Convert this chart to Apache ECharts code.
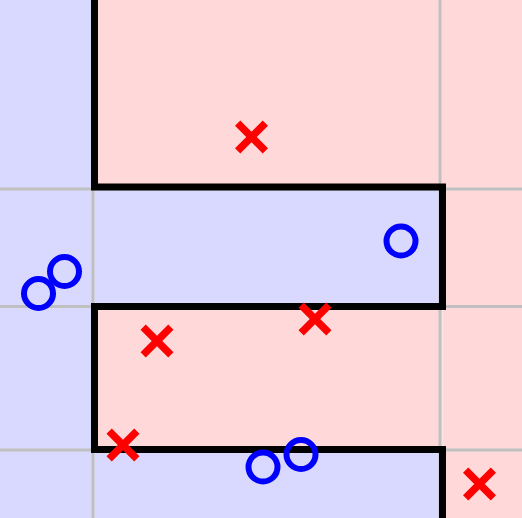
<!DOCTYPE html>
<html>
<head>
<meta charset="utf-8">
<script src="https://cdn.jsdelivr.net/npm/echarts@6/dist/echarts.min.js"></script>
<style>html,body{margin:0;padding:0;background:#fff}#c{width:522px;height:518px}</style>
</head>
<body>
<div id="c"></div>
<script>
// Axis extents (data units)
const xRange = [0, 5.22];
const yRange = [0, 5.18];
// Split thresholds (grid lines)
const xSplits = [0.93, 4.40];
const ySplits = [3.29, 2.115, 0.68];
// Class "x" (red crosses)
const crossX = [2.515, 3.15, 1.57, 1.23, 4.795];
const crossY = [3.81, 1.99, 1.77, 0.73, 0.34];
// Class "o" (blue circles)
const circleX = [4.01, 0.645, 0.385, 2.63, 3.01];
const circleY = [2.77, 2.465, 2.245, 0.51, 0.635];
// Decision boundary
const boundaryX = [0.945, 0.945, 4.425, 4.425, 0.945, 0.945, 4.425, 4.425];
const boundaryY = [5.18, 3.31, 3.31, 2.115, 2.115, 0.685, 0.685, 0.00];
// Regions: [x0, x1, y0, y1]
const blueRegions = [[0, 0.945, 0, 5.18], [0.945, 4.425, 2.115, 3.31], [0.945, 4.425, 0, 0.685]];
const redRegions = [[0.945, 5.22, 3.31, 5.18], [4.425, 5.22, 0, 3.31], [0.945, 4.425, 0.685, 2.115]];

const toArea = r => [{xAxis: r[0], yAxis: r[2]}, {xAxis: r[1], yAxis: r[3]}];
const X_PATH = 'path://M0,16L16,0L50,34L84,0L100,16L66,50L100,84L84,100L50,66L16,100L0,84L34,50Z';

const gridSeries = xSplits.map(v => ({
  type: 'line', z: 2, symbol: 'none', silent: true,
  lineStyle: {color: '#c0c0c0', width: 3}, data: [[v, yRange[0]], [v, yRange[1]]]
})).concat(ySplits.map(v => ({
  type: 'line', z: 2, symbol: 'none', silent: true,
  lineStyle: {color: '#c0c0c0', width: 3}, data: [[xRange[0], v], [xRange[1], v]]
})));

const chart = echarts.init(document.getElementById('c'), null, {renderer: 'canvas'});
chart.setOption({
  animation: false,
  backgroundColor: '#ffffff',
  grid: {left: 0, right: 0, top: 0, bottom: 0, containLabel: false},
  xAxis: {type: 'value', min: xRange[0], max: xRange[1], show: false, splitLine: {show: false}},
  yAxis: {type: 'value', min: yRange[0], max: yRange[1], show: false, splitLine: {show: false}},
  series: [
    {
      type: 'line', data: [], z: 1,
      markArea: {silent: true, itemStyle: {color: '#d9d9ff', opacity: 1}, data: blueRegions.map(toArea)}
    },
    {
      type: 'line', data: [], z: 1,
      markArea: {silent: true, itemStyle: {color: '#ffd9d9', opacity: 1}, data: redRegions.map(toArea)}
    }
  ].concat(gridSeries).concat([
    {
      type: 'line', z: 3, symbol: 'none', smooth: false, silent: true,
      lineStyle: {color: '#000000', width: 7, join: 'miter', cap: 'butt'},
      data: boundaryX.map((x, i) => [x, boundaryY[i]])
    },
    {
      type: 'scatter', z: 4, symbol: X_PATH, symbolSize: 33,
      itemStyle: {color: '#ff0000', opacity: 1},
      data: crossX.map((x, i) => [x, crossY[i]])
    },
    {
      type: 'scatter', z: 4, symbol: 'circle', symbolSize: 29,
      itemStyle: {color: 'rgba(0,0,0,0)', borderColor: '#0000ff', borderWidth: 6, opacity: 1},
      data: circleX.map((x, i) => [x, circleY[i]])
    }
  ])
});
</script>
</body>
</html>
